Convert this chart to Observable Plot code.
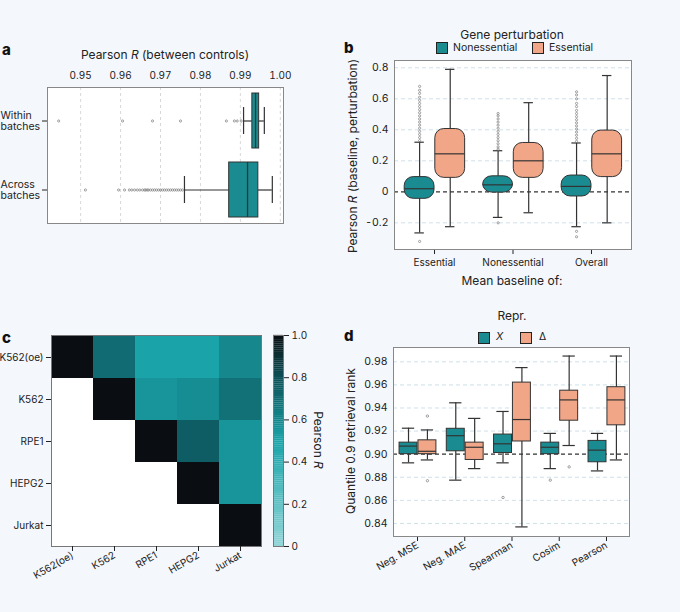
<!DOCTYPE html>
<html><head><meta charset="utf-8">
<script src="https://cdn.jsdelivr.net/npm/d3@7"></script>
<script src="https://cdn.jsdelivr.net/npm/@observablehq/plot@0.6"></script>
<style>
body{margin:0;background:#f4f7fb;font-family:Inter,"Noto Sans",sans-serif;}
#root{position:relative;width:680px;height:612px;background:#f4f7fb;overflow:hidden;}
.t{position:absolute;font-size:12px;color:#222;white-space:nowrap;}
.pl{position:absolute;font-weight:800;font-size:15px;color:#111;}
.sq{position:absolute;width:10px;height:10px;border:1px solid #222;}
</style></head><body><div id="root"></div>
<script>
const TEAL="#1a8c91", PEACH="#f2a688";
// ---- panel a data
const aRows=["Within batches","Across batches"];
const aQ1=[0.9930,0.9872], aMed=[0.9938,0.9918], aQ3=[0.9947,0.9945], aLo=[0.9908,0.9760], aHi=[0.9960,0.9980];
const aOutWithin=[0.9445,0.9605,0.968,0.975,0.9865,0.9885,0.9892,0.9902];
const aOutAcross=[0.9512,0.9595,0.961,0.9622,0.9628,0.9635,0.9642,0.9648,0.9655,0.966,0.9663,0.9667,0.967,0.9675,0.968,0.9685,0.969,0.9695,0.970,0.9705,0.971,0.9715,0.972,0.9725,0.973,0.9735,0.974,0.9745,0.975,0.9755];
// ---- panel b data
const bCats=["Essential","Nonessential","Overall"];
const bNonQ1=[-0.045,-0.005,-0.03], bNonMed=[0.02,0.045,0.035], bNonQ3=[0.095,0.1,0.105], bNonLo=[-0.265,-0.165,-0.225], bNonHi=[0.32,0.265,0.315];
const bEssQ1=[0.09,0.09,0.095], bEssMed=[0.245,0.2,0.245], bEssQ3=[0.405,0.315,0.395], bEssLo=[-0.225,-0.135,-0.2], bEssHi=[0.79,0.575,0.75];
const bNonOut=[
 [0.33,0.35,0.37,0.39,0.41,0.43,0.45,0.47,0.49,0.51,0.53,0.55,0.57,0.59,0.61,0.635,0.655,0.68,-0.32],
 [0.275,0.29,0.31,0.33,0.35,0.37,0.39,0.41,0.43,0.45,0.47,0.49,0.505,-0.2],
 [0.325,0.345,0.365,0.385,0.405,0.425,0.445,0.465,0.485,0.505,0.525,0.55,0.57,0.6,0.625,0.645,-0.255,-0.29]];
// ---- panel c data
const cCells=["K562(oe)","K562","RPE1","HEPG2","Jurkat"];
const cMatrix=[[1,0.7,0.5,0.5,0.6],[null,1,0.55,0.58,0.68],[null,null,1,0.75,0.55],[null,null,null,1,0.55],[null,null,null,null,1]];
const cTicks=[0,0.2,0.4,0.6,0.8,1.0];
// ---- panel d data
const dCats=["Neg. MSE","Neg. MAE","Spearman","Cosim","Pearson"];
const dXQ1=[0.900,0.9025,0.901,0.900,0.893], dXMed=[0.907,0.916,0.909,0.906,0.9035], dXQ3=[0.910,0.922,0.917,0.910,0.9115], dXLo=[0.8925,0.8775,0.8925,0.8875,0.8855], dXHi=[0.9225,0.9445,0.937,0.918,0.918];
const dDQ1=[0.900,0.895,0.911,0.929,0.925], dDMed=[0.9025,0.906,0.930,0.947,0.947], dDQ3=[0.912,0.910,0.962,0.955,0.958], dDLo=[0.895,0.8875,0.837,0.9075,0.895], dDHi=[0.921,0.931,0.975,0.985,0.985];
const dXOut=[[],[],[0.8625],[0.8775],[]], dDOut=[[0.933,0.877],[],[],[0.889],[]];

const root=document.getElementById("root");
const base={width:680,height:612,style:{position:"absolute",left:"0px",top:"0px",background:"transparent",overflow:"visible",fontFamily:"Inter, Noto Sans, sans-serif",fontSize:"10px",color:"#222"}};
function add(el){root.appendChild(el);}
function html(cls,txt,css){const d=document.createElement("div");d.className=cls;d.innerHTML=txt;Object.assign(d.style,css);add(d);}

function vbox(n,off,hw,cap,q1,med,q3,lo,hi,fill,rx){
  const D=d3.range(n).map(i=>({x:i+off,q1:q1[i],med:med[i],q3:q3[i],lo:lo[i],hi:hi[i]}));
  return [
    Plot.ruleX(D,{x:"x",y1:"lo",y2:"hi",stroke:"#333",strokeWidth:1.2}),
    Plot.ruleY(D,{y:"lo",x1:d=>d.x-cap,x2:d=>d.x+cap,stroke:"#333",strokeWidth:1.2}),
    Plot.ruleY(D,{y:"hi",x1:d=>d.x-cap,x2:d=>d.x+cap,stroke:"#333",strokeWidth:1.2}),
    Plot.rect(D,{x1:d=>d.x-hw,x2:d=>d.x+hw,y1:"q1",y2:"q3",fill,stroke:"#333",strokeWidth:1,rx}),
    Plot.ruleY(D,{y:"med",x1:d=>d.x-hw,x2:d=>d.x+hw,stroke:"#333",strokeWidth:1.2})
  ];
}

// ===== Panel a
{
  const D=aRows.map((r,i)=>({r,q1:aQ1[i],med:aMed[i],q3:aQ3[i],lo:aLo[i],hi:aHi[i]}));
  const out=[...aOutWithin.map(v=>({r:aRows[0],v})),...aOutAcross.map(v=>({r:aRows[1],v}))];
  add(Plot.plot({...base,marginLeft:47,marginRight:397,marginTop:87,marginBottom:389,
    x:{domain:[0.9417,1.0008]},
    y:{type:"band",domain:aRows,paddingInner:0.2,paddingOuter:0.08},
    marks:[
      Plot.frame({fill:"white"}),
      Plot.ruleX([0.95,0.96,0.97,0.98,0.99,1.0],{stroke:"#d8d8d8",strokeDasharray:"3,3"}),
      Plot.axisX({anchor:"top",ticks:[0.95,0.96,0.97,0.98,0.99,1.0],tickFormat:d3.format(".2f"),tickSize:0,tickPadding:9,label:null,fontSize:10}),
      Plot.axisY({tickFormat:()=>"",tickSize:5,label:null}),
      Plot.text(aRows,{y:d=>d,text:d=>d.replace(" ","\n"),frameAnchor:"left",dx:-47,textAnchor:"start",fontSize:10.5,lineHeight:1.1}),
      Plot.ruleY(D,{y:"r",x1:"lo",x2:"q1",stroke:"#333",strokeWidth:1.2}),
      Plot.ruleY(D,{y:"r",x1:"q3",x2:"hi",stroke:"#333",strokeWidth:1.2}),
      Plot.tickX(D,{y:"r",x:"lo",insetTop:14,insetBottom:14,stroke:"#333",strokeWidth:1.2}),
      Plot.tickX(D,{y:"r",x:"hi",insetTop:14,insetBottom:14,stroke:"#333",strokeWidth:1.2}),
      Plot.barX(D,{y:"r",x1:"q1",x2:"q3",fill:TEAL,stroke:"#333",strokeWidth:1}),
      Plot.tickX(D,{y:"r",x:"med",stroke:"#333",strokeWidth:1.3}),
      Plot.dot(out,{x:"v",y:"r",r:1.1,stroke:"#888",strokeWidth:0.8}),
      Plot.frame({stroke:"#888"})
    ]}));
  html("pl","a",{left:"2px",top:"40px"});
  html("t","Pearson <i>R</i> (between controls)",{left:"165px",top:"47px",transform:"translateX(-50%)"});
}

// ===== Panel b
{
  const outs=[];bNonOut.forEach((a,i)=>a.forEach(v=>outs.push({x:i-0.19,v})));
  add(Plot.plot({...base,marginLeft:394,marginRight:49,marginTop:60,marginBottom:363,
    x:{domain:[-0.51,2.51]},y:{domain:[-0.372,0.847]},
    marks:[
      Plot.frame({fill:"white"}),
      Plot.ruleY([-0.2,0.2,0.4,0.6,0.8],{stroke:"#cfe0ea",strokeDasharray:"4,3"}),
      Plot.ruleY([0],{stroke:"#333",strokeDasharray:"4,3",strokeWidth:1.2}),
      Plot.axisY({ticks:[-0.2,0,0.2,0.4,0.6,0.8],tickFormat:d=>d===0?"0":d.toFixed(1),tickSize:0,tickPadding:6,label:null,fontSize:10.5}),
      Plot.axisX({ticks:[0,1,2],tickFormat:i=>bCats[i],tickSize:5,tickPadding:4,label:null,fontSize:10}),
      ...vbox(3,-0.19,0.19,0.06,bNonQ1,bNonMed,bNonQ3,bNonLo,bNonHi,TEAL,9),
      ...vbox(3,0.2,0.19,0.06,bEssQ1,bEssMed,bEssQ3,bEssLo,bEssHi,PEACH,9),
      Plot.dot(outs,{x:"x",y:"v",r:1.1,stroke:"#888",strokeWidth:0.8}),
      Plot.frame({stroke:"#888"})
    ]}));
  html("pl","b",{left:"344px",top:"38px"});
  html("t","Gene perturbation",{left:"512px",top:"27px",transform:"translateX(-50%)",fontSize:"12px"});
  html("sq","",{left:"436px",top:"42px",background:TEAL});
  html("t","Nonessential",{left:"453px",top:"41px",fontSize:"10.5px"});
  html("sq","",{left:"532px",top:"42px",background:PEACH});
  html("t","Essential",{left:"549px",top:"41px",fontSize:"10.5px"});
  html("t","Mean baseline of:",{left:"512px",top:"273px",transform:"translateX(-50%)",fontSize:"12px"});
  html("t","Pearson <i>R</i> (baseline, perturbation)",{left:"352px",top:"156px",transform:"translate(-50%,-50%) rotate(-90deg)",fontSize:"12px"});
}

// ===== Panel c
{
  const cells=[];cMatrix.forEach((row,i)=>row.forEach((v,j)=>{if(v!=null)cells.push({r:cCells[i],c:cCells[j],v});}));
  const color={type:"linear",domain:[0,0.5,0.8,1],range:["#92d5d7","#1aa3a9","#0b4f56","#0a0e12"]};
  add(Plot.plot({...base,marginLeft:51,marginRight:419,marginTop:335,marginBottom:66,
    x:{domain:cCells,padding:0},y:{domain:cCells,padding:0},color,
    marks:[
      Plot.frame({fill:"white"}),
      Plot.cell(cells,{x:"c",y:"r",fill:"v"}),
      Plot.frame({stroke:"#777"}),
      Plot.axisY({tickSize:5,tickPadding:3,label:null,fontSize:10}),
      Plot.axisX({tickSize:5,tickPadding:3,tickRotate:-30,label:null,fontSize:10})
    ]}));
  const steps=d3.range(0,1,0.01);
  add(Plot.plot({...base,marginLeft:273,marginRight:397,marginTop:335,marginBottom:66,
    x:{axis:null,domain:[0,1]},y:{domain:[0,1]},color,
    marks:[
      Plot.rect(steps,{x1:0,x2:1,y1:d=>d,y2:d=>d+0.0105,fill:d=>d+0.005}),
      Plot.frame({stroke:"#777"}),
      Plot.axisY({anchor:"right",ticks:cTicks,tickFormat:d=>d===0?"0":d.toFixed(1),tickSize:5,tickPadding:3,label:null,fontSize:10})
    ]}));
  html("pl","c",{left:"2px",top:"328px"});
  html("t","Pearson <i>R</i>",{left:"318px",top:"440px",transform:"translate(-50%,-50%) rotate(90deg)",fontSize:"12px"});
}

// ===== Panel d
{
  const outs=[];dXOut.forEach((a,i)=>a.forEach(v=>outs.push({x:i-0.19,v})));dDOut.forEach((a,i)=>a.forEach(v=>outs.push({x:i+0.21,v})));
  add(Plot.plot({...base,marginLeft:393,marginRight:51,marginTop:347,marginBottom:76,
    x:{domain:[-0.508,4.487]},y:{domain:[0.8287,0.9924]},
    marks:[
      Plot.frame({fill:"white"}),
      Plot.ruleY([0.84,0.86,0.88,0.92,0.94,0.96,0.98],{stroke:"#cfe0ea",strokeDasharray:"4,3"}),
      Plot.ruleY([0.90],{stroke:"#333",strokeDasharray:"4,3",strokeWidth:1.2}),
      Plot.axisY({ticks:[0.84,0.86,0.88,0.90,0.92,0.94,0.96,0.98],tickFormat:d3.format(".2f"),tickSize:0,tickPadding:6,label:null,fontSize:10.5}),
      Plot.axisX({ticks:[0,1,2,3,4],tickFormat:i=>dCats[i],tickSize:5,tickPadding:3,tickRotate:-30,label:null,fontSize:10}),
      ...vbox(5,-0.19,0.19,0.13,dXQ1,dXMed,dXQ3,dXLo,dXHi,TEAL,0),
      ...vbox(5,0.21,0.19,0.13,dDQ1,dDMed,dDQ3,dDLo,dDHi,PEACH,0),
      Plot.dot(outs,{x:"x",y:"v",r:1.2,stroke:"#888",strokeWidth:0.8}),
      Plot.frame({stroke:"#888"})
    ]}));
  html("pl","d",{left:"344px",top:"326px"});
  html("t","Repr.",{left:"512px",top:"308px",transform:"translateX(-50%)",fontSize:"12px"});
  html("sq","",{left:"478px",top:"332px",background:TEAL});
  html("t","<i>X</i>",{left:"496px",top:"330px",fontSize:"10.5px"});
  html("sq","",{left:"520px",top:"332px",background:PEACH});
  html("t","Δ",{left:"539px",top:"330px",fontSize:"10.5px"});
  html("t","Quantile 0.9 retrieval rank",{left:"350px",top:"441px",transform:"translate(-50%,-50%) rotate(-90deg)",fontSize:"12px"});
}
</script></body></html>
